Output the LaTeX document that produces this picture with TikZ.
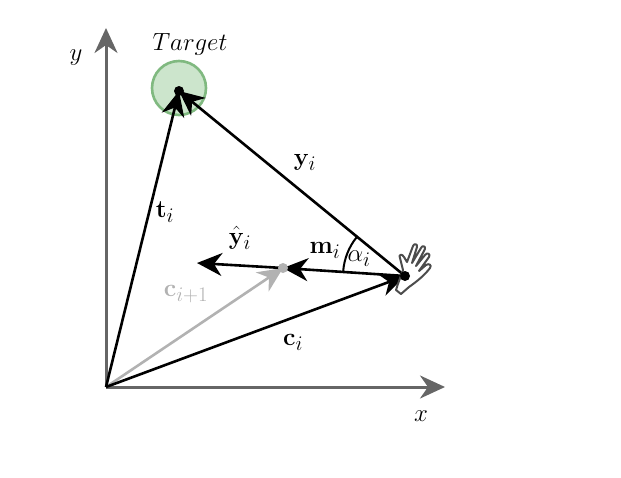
\documentclass[tikz,border=0pt]{standalone}
\usetikzlibrary{arrows.meta}
\begin{document}
\begin{tikzpicture}[x=1pt,y=-1pt,
  vec/.style={line width=2.6pt,-{Stealth[length=25pt,width=23pt,inset=8pt]}},
  axis/.style={line width=3pt,draw=black!60,-{Stealth[length=25pt,width=23pt,inset=8pt]}},
  lbl/.style={font=\fontsize{30}{34}\selectfont}]
\useasboundingbox (0,0) rectangle (621,477);
\coordinate (O) at (106,387);
\coordinate (Y) at (106,28);
\coordinate (X) at (445,387);
\draw[axis] (O) -- (Y);
\draw[axis] (O) -- (X);
\node[font=\fontsize{44}{48}\selectfont] (ylab) at (76,58) {$y$};
\node[font=\fontsize{44}{48}\selectfont] (xlab) at (421,416) {$x$};
\node[circle,minimum size=54pt,fill=green!50!black!20,draw=green!45!black!50,line width=2.6pt] (tg) at (179,88) {};
\coordinate (T) at (179,91);
\node[lbl] (tgl) at (190,44) {$Target$};
\coordinate (H) at (405,276);
\coordinate (G) at (283,268);
\coordinate (Yh) at (197,263);
\draw[vec,draw=black!30,fill=black!30] (O) -- (G);
\draw[vec] (O) -- (T);
\draw[vec] (H) -- (T);
\draw[vec] (O) -- (H);
\draw[vec] (H) -- (G);
\draw[vec] (G) -- (Yh);
\fill[black!30] (G) circle (5pt);
\fill (T) circle (5pt);
\draw[line width=2pt] (H) ++(184:62) arc[start angle=184,end angle=219,radius=62];
\node[lbl] (tl) at (165,212) {$\mathbf{t}_i$};
\node[lbl] (yl) at (305,162) {$\mathbf{y}_i$};
\node[lbl] (yhl) at (240,238) {$\hat{\mathbf{y}}_i$};
\node[lbl] (ml) at (325,250) {$\mathbf{m}_i$};
\node[lbl] (al) at (359,259) {$\alpha_i$};
\node[lbl,text=black!30] (cl) at (186,294) {$\mathbf{c}_{i+1}$};
\node[lbl] (cil) at (293,342) {$\mathbf{c}_i$};
% hand icon
\draw[black!70,line width=2pt,line join=round,fill=white]
 (396,290) -- (401,294) -- (409,287) .. controls (416,282) and (424,276) .. (430,268)
 .. controls (432,265) and (429,263) .. (426,265) -- (419,271)
 -- (429,257) .. controls (431,254) and (427,252) .. (425,255) -- (416,266)
 -- (425,249) .. controls (426,246) and (422,245) .. (421,248) -- (412,263)
 -- (417,247) .. controls (418,244) and (414,243) .. (413,246) -- (407,262)
 -- (404,257) .. controls (402,253) and (398,255) .. (400,258) -- (403,270)
 .. controls (401,276) and (398,283) .. (396,290) -- cycle;
\fill (H) circle (5pt);
\end{tikzpicture}
\end{document}
